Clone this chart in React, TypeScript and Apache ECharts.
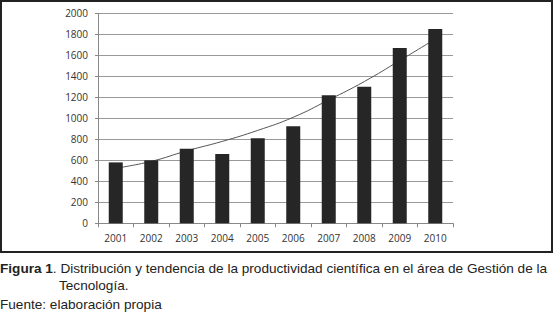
import React, { useEffect, useRef } from "react";
import * as echarts from "echarts";

const years = ["2001", "2002", "2003", "2004", "2005", "2006", "2007", "2008", "2009", "2010"];
const production = [580, 600, 710, 660, 810, 925, 1220, 1300, 1670, 1850];
const trend = [525, 590, 690, 780, 885, 1010, 1175, 1350, 1550, 1755];
const yMin = 0;
const yMax = 2000;
const yStep = 200;
const captionLine1Bold = "Figura 1";
const captionLine1Rest = ". Distribución y tendencia de la productividad científica en el área de Gestión de la";
const captionLine2 = "Tecnología.";
const captionLine3 = "Fuente: elaboración propia";

export default function App() {
  const ref = useRef<HTMLDivElement>(null);
  useEffect(() => {
    if (!ref.current) return;
    const chart = echarts.init(ref.current, null, { renderer: "svg" });
    const capFont = 13.6;
    chart.setOption({
      animation: false,
      backgroundColor: "#ffffff",
      grid: { left: 98, right: 102, top: 13.3, bottom: 90.7, containLabel: false },
      xAxis: {
        type: "category",
        data: years,
        boundaryGap: true,
        axisLine: { show: true, lineStyle: { color: "#888", width: 1 } },
        axisTick: { show: true, alignWithLabel: false, length: 4, lineStyle: { color: "#888" } },
        axisLabel: { color: "#333", fontFamily: "Open Sans", fontSize: 10, margin: 10 },
        splitLine: { show: false },
      },
      yAxis: {
        type: "value",
        min: yMin,
        max: yMax,
        interval: yStep,
        axisLine: { show: true, lineStyle: { color: "#888", width: 1 } },
        axisTick: { show: true, length: 3, lineStyle: { color: "#888" } },
        axisLabel: {
          color: "#333",
          fontFamily: "Open Sans",
          fontSize: 10,
          margin: 10,
          formatter: (v: number) => String(v),
        },
        splitLine: { show: true, lineStyle: { color: "#999", width: 1 } },
      },
      series: [
        {
          type: "bar",
          data: production,
          barWidth: 14,
          itemStyle: { color: "#262626" },
          z: 2,
        },
        {
          type: "line",
          data: trend,
          smooth: true,
          symbol: "none",
          lineStyle: { color: "#555", width: 1 },
          z: 1,
        },
      ],
      graphic: [
        {
          type: "rect",
          shape: { x: 1, y: 1, width: 551, height: 251 },
          style: { fill: "none", stroke: "#222", lineWidth: 2 },
          silent: true,
        },
        {
          type: "text",
          x: 0,
          y: 268,
          style: {
            text: "{b|" + captionLine1Bold + "}" + captionLine1Rest,
            fontFamily: "Liberation Sans",
            fontSize: capFont,
            fill: "#222",
            verticalAlign: "middle",
            rich: { b: { fontWeight: "bold", fontFamily: "Liberation Sans", fontSize: capFont, fill: "#222" } },
          },
        },
        {
          type: "text",
          x: 59,
          y: 285,
          style: { text: captionLine2, fontFamily: "Liberation Sans", fontSize: capFont, fill: "#222", verticalAlign: "middle" },
        },
        {
          type: "text",
          x: 0,
          y: 304,
          style: { text: captionLine3, fontFamily: "Liberation Sans", fontSize: capFont, fill: "#222", verticalAlign: "middle" },
        },
      ],
    });
    return () => chart.dispose();
  }, []);
  return (
    <div style={{ position: "absolute", left: 0, top: 0, width: 555, height: 314, background: "#fff" }}>
      <div ref={ref} style={{ width: 555, height: 314 }} />
    </div>
  );
}
